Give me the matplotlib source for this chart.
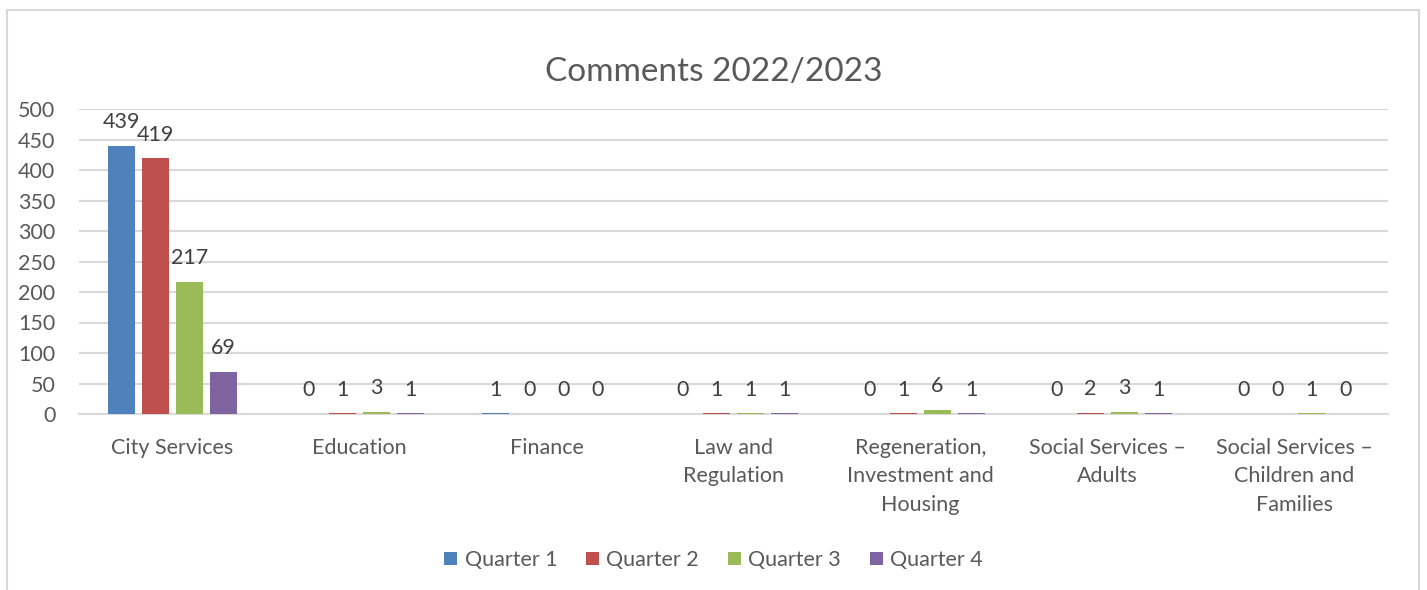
import matplotlib.pyplot as plt
from matplotlib.patches import Rectangle
import numpy as np

plt.rcParams['font.family'] = ['Lato', 'DejaVu Sans']

# data
categories = ['City Services', 'Education', 'Finance', 'Law and\nRegulation',
              'Regeneration,\nInvestment and\nHousing', 'Social Services –\nAdults',
              'Social Services –\nChildren and\nFamilies']
series_names = ['Quarter 1', 'Quarter 2', 'Quarter 3', 'Quarter 4']
q1 = [439, 0, 1, 0, 0, 0, 0]
q2 = [419, 1, 0, 1, 1, 2, 0]
q3 = [217, 3, 0, 1, 6, 3, 1]
q4 = [69, 1, 0, 1, 1, 1, 0]
colors = ['#4f81bd', '#c0504d', '#9bbb59', '#8064a2']
text_col = '#595959'

W, H = 1427, 590
fig = plt.figure(figsize=(W / 100, H / 100), dpi=100)

# chart frame (bottom edge is cut off in the reference)
fig.add_artist(Rectangle((7 / W, -0.1), (1419 - 7) / W, (H - 10) / H + 0.1,
                         transform=fig.transFigure, fill=False,
                         edgecolor='#d9d9d9', linewidth=1.5))

ax = fig.add_axes([79 / W, (H - 414) / H, (1388 - 79) / W, (414 - 109) / H])

x = np.arange(len(categories))
slot = 34 / 187
bw = 27 / 187
for i, (vals, name, c) in enumerate(zip([q1, q2, q3, q4], series_names, colors)):
    bars = ax.bar(x + (i - 1.5) * slot, vals, bw, color=c, label=name, zorder=3)
    ax.bar_label(bars, padding=10, fontsize=15.5, color='#404040')

ax.set_xlim(-0.5, len(categories) - 0.5)
ax.set_ylim(0, 500)
ax.set_yticks(np.arange(0, 501, 50))
ax.set_xticks(x)
ax.set_xticklabels(categories, linespacing=1.55)
ax.tick_params(axis='both', length=0, labelsize=15.5, labelcolor=text_col)
ax.tick_params(axis='x', pad=17)
ax.tick_params(axis='y', pad=17)
for lbl in ax.get_yticklabels():
    lbl.set_horizontalalignment('right')
ax.grid(axis='y', color='#d9d9d9', linewidth=1.5, zorder=0)
for s in ['top', 'right', 'left']:
    ax.spines[s].set_visible(False)
ax.spines['bottom'].set_color('#d9d9d9')
ax.spines['bottom'].set_linewidth(1.5)

fig.text(0.5, (H - 72) / H, 'Comments 2022/2023', ha='center', va='center',
         fontsize=24, color=text_col)

fig.legend(loc='center', bbox_to_anchor=(0.5, (H - 560) / H), ncol=4,
           frameon=False, fontsize=15.5, labelcolor=text_col,
           handlelength=0.6, handleheight=0.6, handletextpad=0.33,
           columnspacing=1.35)

fig.savefig('out.png', dpi=100)
